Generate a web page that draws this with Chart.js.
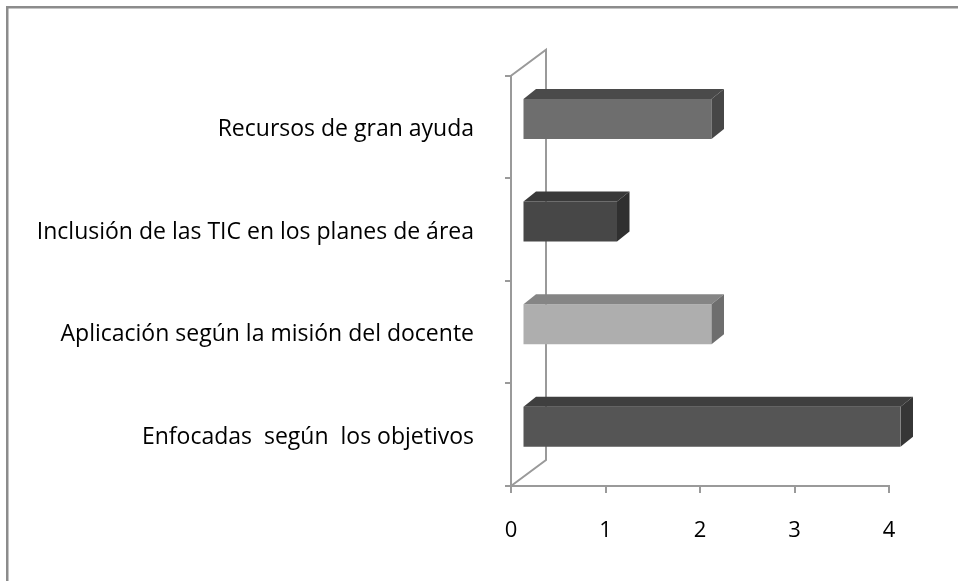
<!DOCTYPE html>
<html>
<head>
<meta charset="utf-8">
<script src="https://cdn.jsdelivr.net/npm/chart.js@4.4.1/dist/chart.umd.min.js"></script>
<style>
  html, body { margin: 0; padding: 0; background: #fff; }
  #wrap { width: 958px; height: 581px; }
</style>
</head>
<body>
<div id="wrap"><canvas id="chart" width="958" height="581"></canvas></div>
<script>
// data
const categories = [
    'Recursos de gran ayuda',
    'Inclusión de las TIC en los planes de área',
    'Aplicación según la misión del docente',
    'Enfocadas  según  los objetivos'
];
const values = [2, 1, 2, 4];
const xTicks = [0, 1, 2, 3, 4];

// colours of the faces, one per bar
const frontColors = ['#6e6e6e', '#474747', '#aeaeae', '#555555'];
const topColors = ['#4a4a4a', '#3a3a3a', '#858585', '#3f3f3f'];
const sideColors = ['#474747', '#303030', '#6e6e6e', '#363636'];

const axisColor = '#9a9a9a';
const catFont = { family: 'Open Sans', size: 23 };
const tickFont = { family: 'Open Sans', size: 22 };

// 3d look: wall depth, bar front offset and bar depth
const wall = { dx: 35, dy: -26 };
const shift = { dx: 11.5, dy: -8 };
const depth = { dx: 12.5, dy: -10 };

const frame3d = {
    id: 'frame3d',
    beforeDraw(chart) {
        const ctx = chart.ctx;
        ctx.save();
        ctx.strokeStyle = '#8c8c8c';
        ctx.lineWidth = 2.5;
        ctx.beginPath();
        ctx.moveTo(7.25, chart.height + 5);
        ctx.lineTo(7.25, 7.25);
        ctx.lineTo(chart.width + 5, 7.25);
        ctx.stroke();
        ctx.restore();
    },
    beforeDatasetsDraw(chart) {
        const ctx = chart.ctx;
        const a = chart.chartArea;
        ctx.save();
        ctx.strokeStyle = axisColor;
        ctx.lineWidth = 2;
        ctx.beginPath();
        ctx.moveTo(a.left, a.top);
        ctx.lineTo(a.left + wall.dx, a.top + wall.dy);
        ctx.lineTo(a.left + wall.dx, a.bottom + wall.dy);
        ctx.lineTo(a.left, a.bottom);
        ctx.stroke();
        ctx.restore();
        // bars sit a little inside the depth
        ctx.save();
        ctx.translate(shift.dx, shift.dy);
    },
    afterDatasetsDraw(chart) {
        const ctx = chart.ctx;
        const meta = chart.getDatasetMeta(0);
        meta.data.forEach(function (bar, i) {
            const p = bar.getProps(['x', 'y', 'base', 'height'], true);
            const top = p.y - p.height / 2;
            const bottom = p.y + p.height / 2;
            ctx.fillStyle = topColors[i];
            ctx.beginPath();
            ctx.moveTo(p.base, top);
            ctx.lineTo(p.x, top);
            ctx.lineTo(p.x + depth.dx, top + depth.dy);
            ctx.lineTo(p.base + depth.dx, top + depth.dy);
            ctx.closePath();
            ctx.fill();
            ctx.fillStyle = sideColors[i];
            ctx.beginPath();
            ctx.moveTo(p.x, top);
            ctx.lineTo(p.x + depth.dx, top + depth.dy);
            ctx.lineTo(p.x + depth.dx, bottom + depth.dy);
            ctx.lineTo(p.x, bottom);
            ctx.closePath();
            ctx.fill();
        });
        ctx.restore();
    }
};

const ctx = document.getElementById('chart').getContext('2d');
new Chart(ctx, {
    type: 'bar',
    data: {
        labels: categories,
        datasets: [{
            data: values,
            backgroundColor: frontColors,
            borderWidth: 0,
            categoryPercentage: 1,
            barPercentage: 0.39
        }]
    },
    options: {
        indexAxis: 'y',
        responsive: false,
        animation: false,
        layout: { padding: { left: 0, right: 69, top: 75.7, bottom: 0 } },
        plugins: {
            legend: { display: false },
            tooltip: { enabled: false }
        },
        scales: {
            x: {
                type: 'linear',
                min: xTicks[0],
                max: xTicks[xTicks.length - 1],
                afterBuildTicks(scale) {
                    scale.ticks = xTicks.map(v => ({ value: v }));
                },
                afterFit(scale) { scale.height = 95; },
                grid: {
                    drawOnChartArea: false,
                    tickLength: 7,
                    color: axisColor,
                    lineWidth: 2
                },
                border: { color: axisColor, width: 2 },
                ticks: { font: tickFont, color: '#000', padding: 25 }
            },
            y: {
                type: 'category',
                afterFit(scale) { scale.width = 511; },
                grid: {
                    offset: true,
                    drawOnChartArea: false,
                    tickLength: 6,
                    color: axisColor,
                    lineWidth: 2
                },
                border: { color: axisColor, width: 2 },
                ticks: { font: catFont, color: '#000', padding: 31, labelOffset: 2.5 }
            }
        }
    },
    plugins: [frame3d]
});
</script>
</body>
</html>
